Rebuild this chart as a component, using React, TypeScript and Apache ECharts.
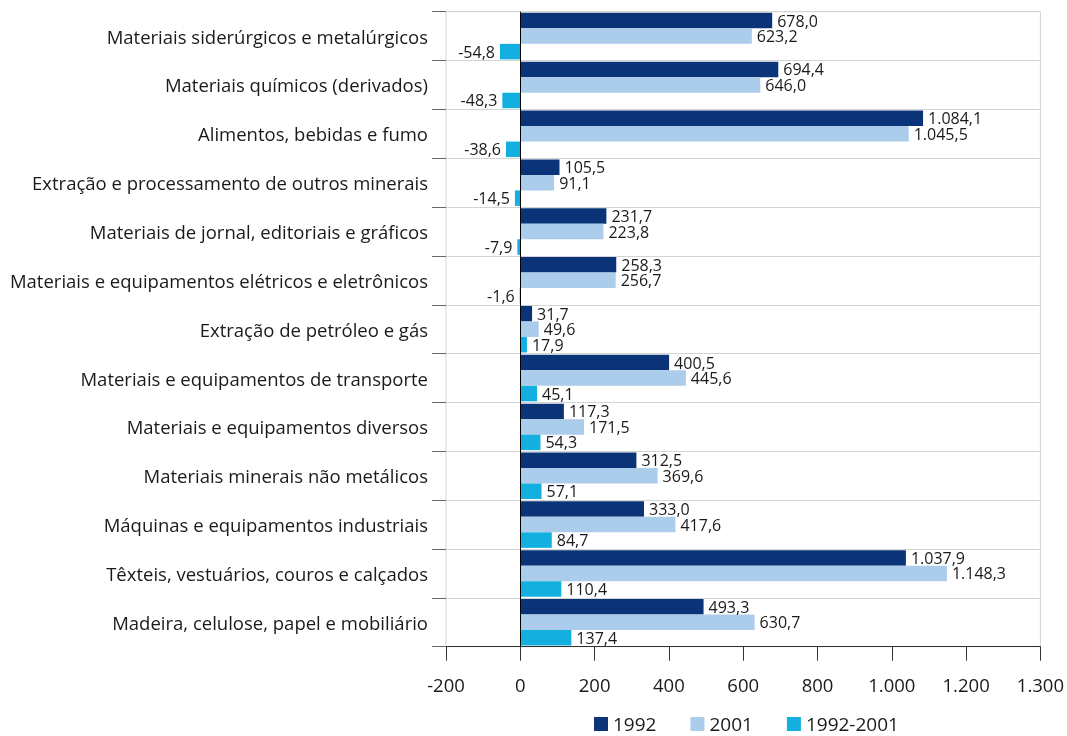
import React, { useEffect, useRef } from "react";
import * as echarts from "echarts";

const categories = [
  "Materiais siderúrgicos e metalúrgicos",
  "Materiais químicos (derivados)",
  "Alimentos, bebidas e fumo",
  "Extração e processamento de outros minerais",
  "Materiais de jornal, editoriais e gráficos",
  "Materiais e equipamentos elétricos e eletrônicos",
  "Extração de petróleo e gás",
  "Materiais e equipamentos de transporte",
  "Materiais e equipamentos diversos",
  "Materiais minerais não metálicos",
  "Máquinas e equipamentos industriais",
  "Têxteis, vestuários, couros e calçados",
  "Madeira, celulose, papel e mobiliário",
];

const values1992 = [678.0, 694.4, 1084.1, 105.5, 231.7, 258.3, 31.7, 400.5, 117.3, 312.5, 333.0, 1037.9, 493.3];
const values2001 = [623.2, 646.0, 1045.5, 91.1, 223.8, 256.7, 49.6, 445.6, 171.5, 369.6, 417.6, 1148.3, 630.7];
const valuesDiff = [-54.8, -48.3, -38.6, -14.5, -7.9, -1.6, 17.9, 45.1, 54.3, 57.1, 84.7, 110.4, 137.4];

const xTickLabels = ["-200", "0", "200", "400", "600", "800", "1.000", "1.200", "1.300"];

const seriesNames = ["1992", "2001", "1992-2001"];
const colors = ["#0b3478", "#abcdeb", "#12afdf"];

const FONT = "'Open Sans', 'Noto Sans', sans-serif";

function fmt(v: number): string {
  const neg = v < 0;
  const s = Math.abs(v).toFixed(1);
  const [intPart, dec] = s.split(".");
  const withSep = intPart.replace(/\B(?=(\d{3})+(?!\d))/g, ".");
  return (neg ? "-" : "") + withSep + "," + dec;
}

function makeData(arr: number[]) {
  return arr.map((v) => ({
    value: v,
    label: { position: v < 0 ? "left" : "right" },
  }));
}

export default function App() {
  const ref = useRef<HTMLDivElement>(null);
  useEffect(() => {
    if (!ref.current) return;
    const chart = echarts.init(ref.current, undefined, { renderer: "svg" });
    const allData = [values1992, values2001, valuesDiff];
    const series: any[] = allData.map((arr, i) => ({
      name: seriesNames[i],
      type: "bar",
      data: makeData(arr),
      barWidth: 15.5,
      barGap: "0%",
      itemStyle: { color: colors[i] },
      label: {
        show: true,
        distance: 5,
        formatter: (p: any) => fmt(p.value),
        fontFamily: FONT,
        fontSize: 16,
        lineHeight: 14,
        color: "#1a1a1a",
      },
    }));
    series[0].markLine = {
      silent: true,
      symbol: "none",
      label: { show: false },
      lineStyle: { color: "#000", width: 1, type: "solid" },
      data: [{ xAxis: 0 }],
    };
    chart.setOption({
      animation: false,
      textStyle: { fontFamily: FONT },
      grid: {
        left: 446,
        right: 25,
        top: 11.7,
        bottom: 89.3,
        show: true,
        borderColor: "#d4d4d4",
        borderWidth: 1,
      },
      legend: {
        data: seriesNames,
        top: 709,
        left: 589,
        padding: 5,
        icon: "rect",
        itemWidth: 14,
        itemHeight: 14,
        itemGap: 34,
        textStyle: { fontFamily: FONT, fontSize: 19, lineHeight: 20, color: "#1a1a1a" },
      },
      xAxis: {
        type: "value",
        min: -200,
        max: 1400,
        interval: 200,
        axisLine: { show: true, onZero: false, lineStyle: { color: "#333", width: 1 } },
        axisTick: { show: true, length: 14, lineStyle: { color: "#333" } },
        splitLine: { show: false },
        axisLabel: {
          margin: 28,
          fontFamily: FONT,
          fontSize: 18.5,
          color: "#1a1a1a",
          formatter: (v: number) => {
            const idx = Math.round((v + 200) / 200);
            return xTickLabels[idx] ?? "";
          },
        },
      },
      yAxis: {
        type: "category",
        data: categories,
        inverse: true,
        axisLine: { show: false, onZero: false },
        axisTick: { show: true, length: 14, lineStyle: { color: "#666" } },
        splitLine: { show: true, lineStyle: { color: "#d4d4d4", width: 1 } },
        axisLabel: {
          margin: 18,
          fontFamily: FONT,
          fontSize: 18.5,
          color: "#1a1a1a",
        },
      },
      series,
    });
    return () => chart.dispose();
  }, []);
  return (
    <div
      ref={ref}
      style={{ position: "fixed", left: 0, top: 0, width: 1067, height: 736 }}
    />
  );
}
